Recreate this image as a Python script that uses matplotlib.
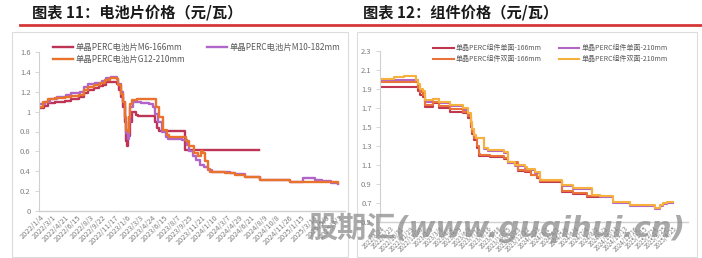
import numpy as np
import pandas as pd
import matplotlib
matplotlib.use('Agg')
import matplotlib.pyplot as plt
from matplotlib.patches import Rectangle
from matplotlib.lines import Line2D

plt.rcParams['font.family'] = ['Noto Sans CJK SC', 'DejaVu Sans']

# ---------------- 图表11 电池片价格 ----------------
CELL_TICKS = ['2022/1/4', '2022/3/1', '2022/4/21', '2022/6/15', '2022/8/3', '2022/9/22',
              '2022/11/17', '2023/1/6', '2023/3/3', '2023/4/24', '2023/6/15', '2023/8/7',
              '2023/9/25', '2023/11/21', '2024/1/10', '2024/3/7', '2024/4/29', '2024/6/21',
              '2024/8/9', '2024/10/8', '2024/11/26', '2025/1/15', '2025/3/14', '2025/5/9',
              '2025/7/2']

m6_dates = ['2022/1/4', '2022/1/20', '2022/2/10', '2022/3/10', '2022/4/20', '2022/5/20',
            '2022/6/20', '2022/7/10', '2022/7/25', '2022/8/20', '2022/9/10', '2022/9/25',
            '2022/10/10', '2022/11/28', '2022/12/5', '2022/12/12', '2022/12/20', '2022/12/27',
            '2023/1/3', '2023/1/6', '2023/1/12', '2023/1/18', '2023/1/30', '2023/2/15',
            '2023/2/22', '2023/5/8', '2023/5/15', '2023/5/25', '2023/9/8', '2024/7/20']
m6_values = [1.04, 1.06, 1.09, 1.10, 1.11, 1.13, 1.15, 1.19, 1.22, 1.24, 1.26, 1.27,
             1.30, 1.28, 1.22, 1.15, 1.05, 0.90, 0.70, 0.65, 0.75, 0.90, 1.00, 0.97,
             0.96, 0.90, 0.84, 0.81, 0.61, 0.61]

m10_dates = ['2022/1/4', '2022/1/25', '2022/2/20', '2022/3/20', '2022/4/25', '2022/5/20',
             '2022/6/25', '2022/7/10', '2022/7/25', '2022/8/25', '2022/9/20', '2022/10/10',
             '2022/11/1', '2022/11/25', '2022/12/2', '2022/12/12', '2022/12/20', '2022/12/27',
             '2023/1/3', '2023/1/9', '2023/1/16', '2023/1/20', '2023/2/1', '2023/3/10',
             '2023/4/10', '2023/4/28', '2023/5/8', '2023/5/20', '2023/6/5', '2023/6/20',
             '2023/6/28', '2023/8/25', '2023/9/15', '2023/9/25', '2023/10/10', '2023/10/25',
             '2023/11/13', '2023/12/1', '2023/12/15', '2024/1/2', '2024/3/20', '2024/4/12',
             '2024/5/23', '2024/7/23', '2024/11/30', '2025/1/10', '2025/1/22', '2025/2/27',
             '2025/3/20', '2025/4/20', '2025/5/30', '2025/6/29']
m10_values = [1.08, 1.10, 1.13, 1.15, 1.17, 1.19, 1.20, 1.25, 1.28, 1.29, 1.31, 1.34,
              1.35, 1.33, 1.28, 1.20, 1.10, 0.95, 0.78, 0.72, 0.90, 1.05, 1.10, 1.09,
              1.08, 1.05, 0.98, 0.90, 0.80, 0.74, 0.72, 0.71, 0.66, 0.60, 0.55, 0.51,
              0.46, 0.44, 0.41, 0.39, 0.38, 0.37, 0.34, 0.31, 0.29, 0.29, 0.33, 0.33,
              0.31, 0.30, 0.28, 0.27]

g12_dates = ['2022/1/4', '2022/1/18', '2022/2/10', '2022/3/10', '2022/4/20', '2022/5/20',
             '2022/6/20', '2022/7/10', '2022/7/25', '2022/8/20', '2022/9/15', '2022/10/5',
             '2022/10/25', '2022/11/25', '2022/12/2', '2022/12/12', '2022/12/20', '2022/12/27',
             '2023/1/3', '2023/1/9', '2023/1/16', '2023/1/20', '2023/1/30', '2023/2/20',
             '2023/5/5', '2023/5/12', '2023/5/25', '2023/6/10', '2023/6/25', '2023/7/5',
             '2023/9/10', '2023/9/25', '2023/10/15', '2023/11/5', '2023/11/15', '2023/11/25',
             '2023/12/5', '2023/12/15', '2023/12/25', '2024/3/1', '2024/4/12', '2024/5/23',
             '2024/7/23', '2024/11/30', '2025/6/29']
g12_values = [1.05, 1.10, 1.13, 1.14, 1.15, 1.16, 1.17, 1.22, 1.25, 1.27, 1.29, 1.32,
              1.34, 1.33, 1.27, 1.18, 1.10, 0.95, 0.82, 0.80, 0.95, 1.08, 1.12, 1.13,
              1.13, 1.05, 0.95, 0.82, 0.76, 0.74, 0.70, 0.65, 0.58, 0.55, 0.60, 0.58,
              0.50, 0.42, 0.39, 0.38, 0.36, 0.34, 0.31, 0.29, 0.28]

# ---------------- 图表12 组件价格 ----------------
MOD_TICKS = ['2022/8/24', '2022/9/23', '2022/10/31', '2022/11/29', '2022/12/28', '2023/2/3',
             '2023/3/6', '2023/4/4', '2023/5/9', '2023/6/8', '2023/7/14', '2023/8/16',
             '2023/9/18', '2023/10/25', '2023/11/23', '2023/12/22', '2024/1/23', '2024/3/1',
             '2024/4/1', '2024/5/6', '2024/6/4', '2024/7/4', '2024/8/2', '2024/9/3',
             '2024/10/11', '2024/11/13', '2024/12/16', '2025/1/15', '2025/2/24', '2025/3/25',
             '2025/4/25']

bi210_dates = ['2022/8/24', '2022/10/5', '2022/11/10', '2022/12/16', '2022/12/22', '2022/12/28',
               '2023/1/10', '2023/1/18', '2023/2/13', '2023/3/5', '2023/4/7', '2023/5/23',
               '2023/6/6', '2023/6/15', '2023/6/22', '2023/6/27', '2023/7/5', '2023/8/2',
               '2023/8/15', '2023/10/12', '2023/10/26', '2023/11/15', '2023/12/16', '2023/12/22',
               '2024/1/17', '2024/2/5', '2024/4/20', '2024/5/27', '2024/7/23', '2024/8/17',
               '2024/10/3', '2024/11/30', '2025/2/28', '2025/3/13', '2025/3/22', '2025/4/5',
               '2025/4/24']
bi210_values = [2.01, 2.03, 2.04, 2.00, 1.95, 1.90, 1.88, 1.78, 1.80, 1.76, 1.73, 1.70,
                1.65, 1.55, 1.48, 1.42, 1.38, 1.28, 1.26, 1.24, 1.13, 1.10, 1.08, 1.06,
                1.03, 0.94, 0.89, 0.86, 0.78, 0.77, 0.71, 0.68, 0.65, 0.68, 0.70, 0.71,
                0.71]

mono210_dates = ['2022/8/24', '2022/12/16', '2022/12/22', '2022/12/28', '2023/1/10', '2023/1/18',
                 '2023/2/13', '2023/3/5', '2023/4/7', '2023/5/23', '2023/6/6', '2023/6/15',
                 '2023/6/22', '2023/6/27', '2023/7/5', '2023/8/2', '2023/8/15', '2023/10/12',
                 '2023/10/26', '2023/11/15', '2023/12/16', '2023/12/22', '2024/1/17', '2024/2/5',
                 '2024/4/20', '2024/5/27', '2024/7/23', '2024/8/17', '2024/10/3', '2024/11/30',
                 '2025/2/28', '2025/3/13', '2025/3/22', '2025/4/5', '2025/4/24']
mono210_values = [1.99, 1.99, 1.93, 1.88, 1.86, 1.76, 1.79, 1.75, 1.72, 1.68, 1.63, 1.53,
                  1.46, 1.40, 1.38, 1.27, 1.25, 1.23, 1.12, 1.09, 1.07, 1.05, 1.02, 0.93,
                  0.88, 0.85, 0.77, 0.76, 0.70, 0.67, 0.64, 0.67, 0.69, 0.70, 0.70]

bi166_dates = ['2022/8/24', '2022/12/16', '2022/12/22', '2022/12/28', '2023/1/10', '2023/1/18',
               '2023/2/13', '2023/3/5', '2023/4/7', '2023/5/23', '2023/6/6', '2023/6/15',
               '2023/6/22', '2023/6/27', '2023/7/10', '2023/7/15', '2023/7/20', '2023/8/22',
               '2023/10/12', '2023/10/26', '2023/11/24', '2023/12/16', '2024/1/3', '2024/1/23',
               '2024/2/5', '2024/4/20', '2024/5/27', '2024/7/8', '2024/8/17']
bi166_values = [1.97, 1.97, 1.91, 1.87, 1.84, 1.73, 1.76, 1.72, 1.69, 1.66, 1.62, 1.52,
                1.45, 1.38, 1.30, 1.22, 1.21, 1.19, 1.17, 1.13, 1.05, 1.04, 1.00, 0.97,
                0.93, 0.83, 0.81, 0.77, 0.77]

mono166_dates = ['2022/8/24', '2022/12/16', '2022/12/22', '2022/12/28', '2023/1/10', '2023/1/18',
                 '2023/2/13', '2023/3/5', '2023/4/7', '2023/5/23', '2023/6/6', '2023/6/15',
                 '2023/6/22', '2023/6/27', '2023/7/10', '2023/7/15', '2023/8/22', '2023/10/12',
                 '2023/10/26', '2023/11/24', '2023/12/16', '2024/1/3', '2024/1/23', '2024/2/5',
                 '2024/4/20', '2024/5/27', '2024/7/8', '2024/8/17']
mono166_values = [1.92, 1.92, 1.88, 1.84, 1.82, 1.71, 1.75, 1.70, 1.66, 1.65, 1.60, 1.50,
                  1.43, 1.36, 1.28, 1.20, 1.18, 1.16, 1.12, 1.04, 1.03, 0.99, 0.96, 0.92,
                  0.82, 0.80, 0.76, 0.76]

W, H = 702, 258
fig = plt.figure(figsize=(W / 100, H / 100), dpi=100)
fig.patch.set_facecolor('white')

TICK_GREY = '#7f7f7f'
AXIS_GREY = '#d0d0d0'


def px_axes(x0, y0, x1, y1):
    """像素坐标 -> 图中的轴"""
    return fig.add_axes([x0 / W, 1 - y1 / H, (x1 - x0) / W, (y1 - y0) / H])


def date_pos(dates, tick_dates):
    """把日期映射到类别轴位置（按刻度日期分段线性）"""
    d = pd.to_datetime(dates, format='%Y/%m/%d').values.astype('datetime64[D]').astype(float)
    t = pd.to_datetime(tick_dates, format='%Y/%m/%d').values.astype('datetime64[D]').astype(float)
    return np.interp(d, t, np.arange(len(t)))


def style_axes(ax, tick_labels, yticks, ylabels, xfs):
    for s in ['top', 'right']:
        ax.spines[s].set_visible(False)
    ax.spines['left'].set_color(AXIS_GREY)
    ax.spines['bottom'].set_color(AXIS_GREY)
    ax.spines['left'].set_linewidth(0.8)
    ax.spines['bottom'].set_linewidth(1.0)
    ax.set_xticks(np.arange(len(tick_labels)))
    ax.set_xticklabels(tick_labels, rotation=45, ha='right', rotation_mode='anchor',
                       fontsize=xfs, color=TICK_GREY)
    ax.set_yticks(yticks)
    ax.set_yticklabels(ylabels, fontsize=5.5, color=TICK_GREY)
    ax.tick_params(axis='y', length=3, width=0.6, color=AXIS_GREY, pad=3)
    ax.tick_params(axis='x', length=0, pad=2)


# 标题与红线
fig.text(32 / W, 1 - 12 / H, '图表 11：电池片价格（元/瓦）', fontsize=11, fontweight='bold',
         color='#1a1a1a', va='center', ha='left')
fig.text(363 / W, 1 - 12 / H, '图表 12：组件价格（元/瓦）', fontsize=11, fontweight='bold',
         color='#1a1a1a', va='center', ha='left')
fig.add_artist(Line2D([20 / W, 1.0], [1 - 25 / H, 1 - 25 / H], color='#d6383a', lw=2.0))

# 外框
fig.add_artist(Rectangle((12 / W, 1 - 257 / H), (348 - 12) / W, (257 - 32) / H,
                         transform=fig.transFigure, fill=False, edgecolor='#dcdcdc', lw=0.8))
fig.add_artist(Rectangle((357 / W, 1 - 257 / H), (697 - 357) / W, (257 - 32) / H,
                         transform=fig.transFigure, fill=False, edgecolor='#dcdcdc', lw=0.8))

# ---- 左图 ----
ax1 = px_axes(39, 52, 345, 211)
lw = 1.7
l_m6, = ax1.plot(date_pos(m6_dates, CELL_TICKS), m6_values, drawstyle='steps-post',
                 color='#be3456', lw=lw, label='单晶PERC电池片M6-166mm')
l_m10, = ax1.plot(date_pos(m10_dates, CELL_TICKS), m10_values, drawstyle='steps-post',
                  color='#b066c8', lw=lw, label='单晶PERC电池片M10-182mm')
l_g12, = ax1.plot(date_pos(g12_dates, CELL_TICKS), g12_values, drawstyle='steps-post',
                  color='#e9732c', lw=lw, label='单晶PERC电池片G12-210mm')
ax1.set_xlim(-0.08, 24.5)
ax1.set_ylim(0, 1.6)
cell_y = [0, 0.2, 0.4, 0.6, 0.8, 1.0, 1.2, 1.4, 1.6]
style_axes(ax1, CELL_TICKS, cell_y, ['0', '0.2', '0.4', '0.6', '0.8', '1', '1.2', '1.4', '1.6'], 5.3)
fig.legend(handles=[l_m6, l_g12, l_m10], loc='upper left', bbox_to_anchor=(53 / W, 1 - 43 / H),
           ncol=2, frameon=False, fontsize=6, handlelength=2.4, handletextpad=0.3,
           columnspacing=2.6, labelspacing=0.35, borderpad=0, borderaxespad=0,
           labelcolor='#595959')

# ---- 右图 ----
ax2 = px_axes(380, 51, 688, 222)
lw2 = 1.5
r1, = ax2.plot(date_pos(mono166_dates, MOD_TICKS), mono166_values, drawstyle='steps-post',
               color='#c0364f', lw=lw2, label='单晶PERC组件单面-166mm')
r2, = ax2.plot(date_pos(mono210_dates, MOD_TICKS), mono210_values, drawstyle='steps-post',
               color='#b466c6', lw=lw2, label='单晶PERC组件单面-210mm')
r3, = ax2.plot(date_pos(bi166_dates, MOD_TICKS), bi166_values, drawstyle='steps-post',
               color='#e8743b', lw=lw2, label='单晶PERC组件双面-166mm')
r4, = ax2.plot(date_pos(bi210_dates, MOD_TICKS), bi210_values, drawstyle='steps-post',
               color='#f6b03c', lw=lw2, label='单晶PERC组件双面-210mm')
ax2.set_xlim(-0.1, 31.5)
ax2.set_ylim(0.5, 2.3)
mod_y = [0.5, 0.7, 0.9, 1.1, 1.3, 1.5, 1.7, 1.9, 2.1, 2.3]
style_axes(ax2, MOD_TICKS, mod_y, ['0.5', '0.7', '0.9', '1.1', '1.3', '1.5', '1.7', '1.9', '2.1', '2.3'], 4.4)
fig.legend(handles=[r1, r3, r2, r4], loc='upper left', bbox_to_anchor=(433 / W, 1 - 44 / H),
           ncol=2, frameon=False, fontsize=5, handlelength=3.0, handletextpad=0.3,
           columnspacing=2.4, labelspacing=0.45, borderpad=0, borderaxespad=0,
           labelcolor='#595959')

# 水印
fig.text(497 / W, 1 - 228 / H, '股期汇(www.guqihui.cn)', fontsize=21, fontweight='bold',
         fontstyle='italic', color='#8c8c8c', alpha=0.75, ha='center', va='center',
         family=['DejaVu Sans', 'Noto Sans CJK SC'])

fig.savefig('out.png', dpi=100, facecolor='white')
